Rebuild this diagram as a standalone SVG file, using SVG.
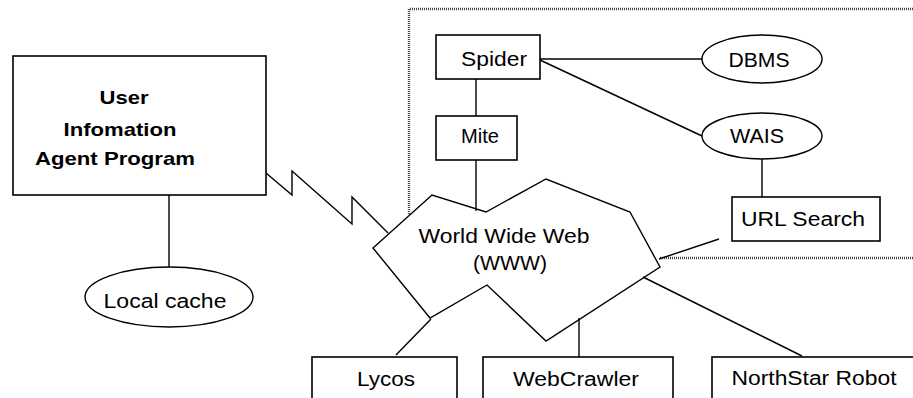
<svg xmlns="http://www.w3.org/2000/svg" width="913" height="398" viewBox="0 0 913 398">
<style>
.box{fill:#fff;stroke:#000;stroke-width:1.6}
.ell{fill:#fff;stroke:#000;stroke-width:1.4}
.ln{fill:none;stroke:#000;stroke-width:1.4}
.dot{fill:none;stroke:#444;stroke-width:2.4;stroke-dasharray:1 1}
.t{font-family:"Liberation Sans",Arial,sans-serif;font-size:20px;fill:#000;text-anchor:middle}
.b{font-family:"Liberation Sans",Arial,sans-serif;font-size:19px;font-weight:bold;fill:#000;text-anchor:middle}
</style>
<rect width="913" height="398" fill="#fff"/>
<g id="boundary">
<path class="dot" d="M409,214 V9 H914 M660,258 H914"/>
</g>
<g id="connectors">
<line class="ln" x1="169" y1="195" x2="169" y2="267"/>
<polyline class="ln" points="266,173 292,195 292,171 352,224 352,197 388,233"/>
<line class="ln" x1="476" y1="79" x2="476" y2="116"/>
<line class="ln" x1="476" y1="160" x2="476" y2="211"/>
<line class="ln" x1="540" y1="59" x2="702" y2="59"/>
<line class="ln" x1="540" y1="60" x2="702" y2="136"/>
<line class="ln" x1="762" y1="159" x2="762" y2="197"/>
<line class="ln" x1="719" y1="239" x2="659" y2="259"/>
<line class="ln" x1="643" y1="277" x2="802" y2="356"/>
<line class="ln" x1="579" y1="318" x2="579" y2="357"/>
<line class="ln" x1="431" y1="319" x2="396" y2="355"/>
</g>
<g id="user-agent">
<rect class="box" x="13" y="56" width="253" height="139"/>
<text class="b" x="124" y="104" textLength="49" lengthAdjust="spacingAndGlyphs">User</text>
<text class="b" x="120" y="136" textLength="113" lengthAdjust="spacingAndGlyphs">Infomation</text>
<text class="b" x="115" y="165" textLength="160" lengthAdjust="spacingAndGlyphs">Agent Program</text>
</g>
<g id="local-cache">
<ellipse class="ell" cx="169" cy="297" rx="84" ry="30"/>
<text class="t" x="165" y="308" textLength="123" lengthAdjust="spacingAndGlyphs">Local cache</text>
</g>
<g id="www">
<polygon class="ln" fill="#fff" points="373,248 432,195 486,212 546,179 630,212 660,267 546,341 487,285 430,318"/>
<text class="t" x="504" y="243" textLength="171" lengthAdjust="spacingAndGlyphs">World Wide Web</text>
<text class="t" x="510" y="270" textLength="74" lengthAdjust="spacingAndGlyphs">(WWW)</text>
</g>
<g id="spider">
<rect class="box" x="436" y="35" width="104" height="44"/>
<text class="t" x="494" y="66" textLength="66" lengthAdjust="spacingAndGlyphs">Spider</text>
</g>
<g id="mite">
<rect class="box" x="436" y="116" width="81" height="44"/>
<text class="t" x="480" y="143" textLength="38" lengthAdjust="spacingAndGlyphs">Mite</text>
</g>
<g id="dbms">
<ellipse class="ell" cx="762" cy="59" rx="60" ry="24"/>
<text class="t" x="759" y="67" textLength="61" lengthAdjust="spacingAndGlyphs">DBMS</text>
</g>
<g id="wais">
<ellipse class="ell" cx="762" cy="136" rx="60" ry="23"/>
<text class="t" x="757" y="143" textLength="54" lengthAdjust="spacingAndGlyphs">WAIS</text>
</g>
<g id="url-search">
<rect class="box" x="732" y="197" width="148" height="44"/>
<text class="t" x="803" y="226" textLength="124" lengthAdjust="spacingAndGlyphs">URL Search</text>
</g>
<g id="lycos">
<rect class="box" x="312" y="357" width="145" height="50"/>
<text class="t" x="386" y="386" textLength="58" lengthAdjust="spacingAndGlyphs">Lycos</text>
</g>
<g id="webcrawler">
<rect class="box" x="483" y="357" width="190" height="50"/>
<text class="t" x="576" y="386" textLength="126" lengthAdjust="spacingAndGlyphs">WebCrawler</text>
</g>
<g id="northstar">
<rect class="box" x="712" y="357" width="215" height="50"/>
<text class="t" x="814" y="385" textLength="165" lengthAdjust="spacingAndGlyphs">NorthStar Robot</text>
</g>
</svg>
